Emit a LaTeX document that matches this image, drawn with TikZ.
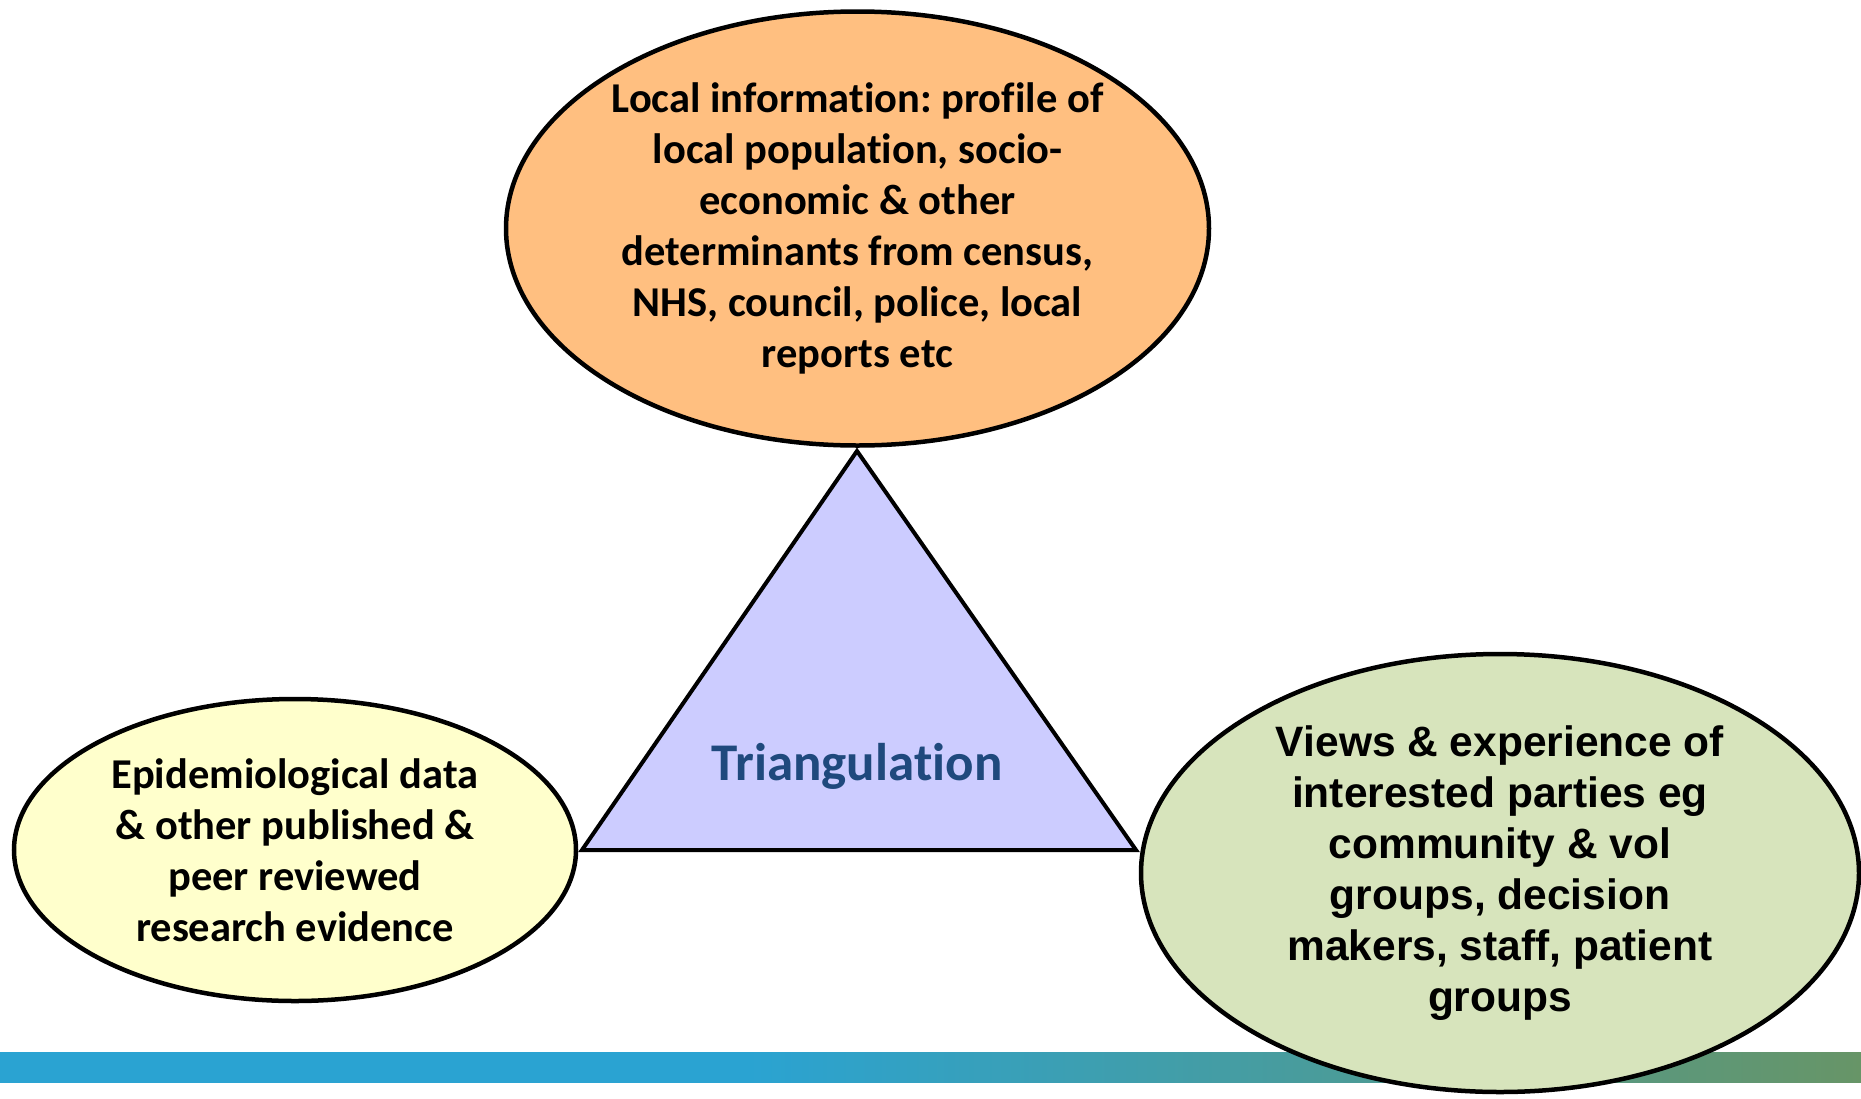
\documentclass[tikz,border=0pt]{standalone}
\usepackage{fontspec}
\setmainfont{Carlito}[Ligatures={NoCommon}]
\newfontfamily\arialfont{Liberation Sans}
\usetikzlibrary{shapes.geometric}
\frenchspacing
\definecolor{peach}{HTML}{FFBF80}
\definecolor{paleyellow}{HTML}{FFFFCC}
\definecolor{palegreen}{HTML}{D7E4BC}
\definecolor{lilac}{HTML}{CCCCFF}
\definecolor{navytext}{HTML}{1F497D}
\definecolor{barblue}{HTML}{2AA3D2}
\definecolor{bargreen}{HTML}{679567}
\pgfdeclarehorizontalshading{barshade}{100bp}{color(0bp)=(barblue);
	color(45bp)=(barblue); color(75bp)=(bargreen); color(100bp)=(bargreen)}
\tikzset{
    blob/.style={ellipse, draw, line width=4.5pt, inner sep=0pt, align=center,
    	font=\fontsize{42.5}{51}\selectfont\bfseries}
}
\tikzset{
    tri/.style={draw, fill=lilac, line width=4pt, line join=miter}
}
\tikzset{
	title/.style={font=\fontsize{53}{60}\selectfont\bfseries, text=navytext}
}

\begin{document}
\begin{tikzpicture}[x=1pt,y=-1pt]
	\useasboundingbox (0,0) rectangle (1861,1098);
	\shade[shading=barshade] (0,1052) rectangle (1861,1082);

	\coordinate (apex) at (857,451);
	\coordinate (bl) at (582,850);
	\coordinate (br) at (1136,850);
	\draw[tri] (apex) -- (bl) -- (br) -- cycle;
	\node (tri) [title] at (857,766) {Triangulation};

	\node (local) [blob, fill=peach, minimum width=703, minimum height=434]
		at (857.5,228.5) {Local information: profile of\\local population, socio-\\
		economic \& other\\determinants from census,\\NHS, council, police, local\\
		reports etc};
	\node (epi) [blob, fill=paleyellow, minimum width=562, minimum height=302]
		at (295,850) {Epidemiological data\\\& other published \&\\peer reviewed\\
		research evidence};
	\node (views) [blob, fill=palegreen, minimum width=718, minimum height=438,
		font=\fontsize{42.5}{51}\selectfont\arialfont\bfseries] at (1500,873)
		{Views \& experience of\\interested parties eg\\community \& vol\\
		groups, decision\\makers, staff, patient\\groups};
\end{tikzpicture}
\end{document}
